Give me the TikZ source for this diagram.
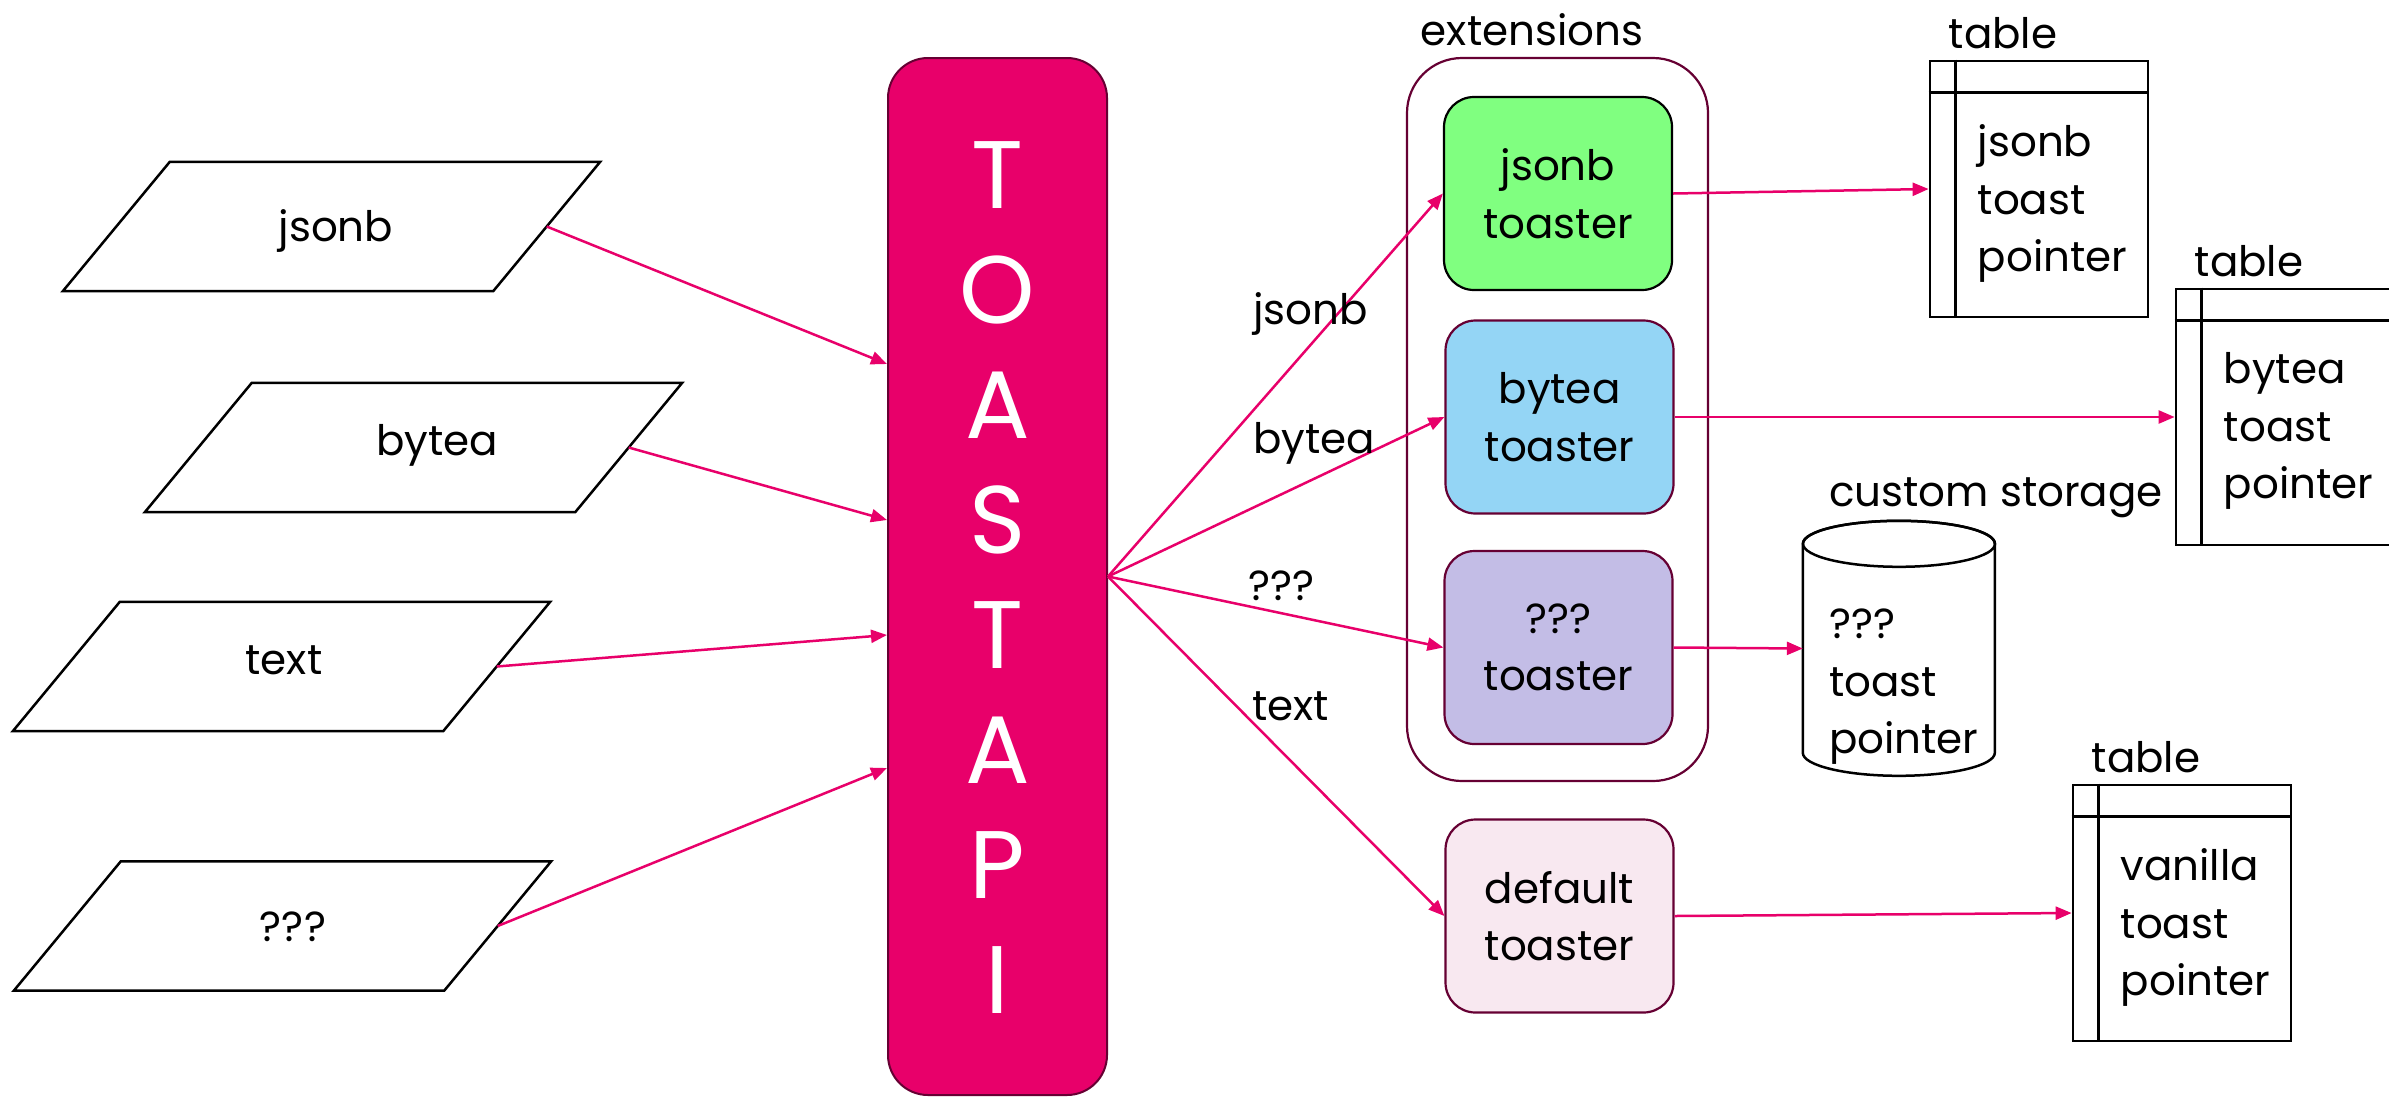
\documentclass[tikz,border=0pt]{standalone}
\usepackage{fontspec}
\setmainfont{Poppins}
\usetikzlibrary{arrows.meta,calc}
\definecolor{apipink}{HTML}{E8006A}
\definecolor{maroon}{HTML}{660033}
\definecolor{jsonbgreen}{HTML}{80FF80}
\definecolor{byteablue}{HTML}{94D5F5}
\definecolor{unkpurple}{HTML}{C3BDE6}
\definecolor{defaultpink}{HTML}{F8E8F0}

% slanted input box: #1 name, #2 centre x, #3 centre y
\newcommand\slantbox[3]{%
  \node[rectangle, minimum width=430pt, minimum height=129pt] (#1) at (#2,#3) {};
  \draw[typeline] ($(#1.north west)+(53.5,0)$) -- ($(#1.north east)+(53.5,0)$)
    -- ($(#1.south east)+(-53.5,0)$) -- ($(#1.south west)+(-53.5,0)$) -- cycle;
  \coordinate (#1-out) at (#1.east);
}

\begin{document}
\begin{tikzpicture}[x=1pt,y=-1pt,
  every node/.style={font=\fontsize{42}{57.5}\selectfont, inner sep=0pt},
  typeline/.style={draw=black, line width=2.5pt, line join=miter},
  txt/.style={anchor=base, text=black},
  apibox/.style={rectangle, rounded corners=40pt, fill=apipink, draw=maroon,
    line width=2pt, minimum width=219pt, minimum height=1037pt},
  apiletter/.style={anchor=base, text=white, font=\fontsize{96}{110}\selectfont},
  extbox/.style={rectangle, rounded corners=55pt, draw=maroon, line width=2.2pt,
    minimum width=301pt, minimum height=723pt},
  toaster/.style={rectangle, rounded corners=30pt, draw=maroon, line width=2.2pt,
    minimum width=228pt, minimum height=193pt, align=center},
  tablebox/.style={rectangle, draw=black, line width=2.8pt, fill=white,
    minimum width=218pt, minimum height=256pt},
  tableline/.style={draw=black, line width=2.8pt},
  tablename/.style={anchor=base west},
  tabletext/.style={anchor=north west, align=left},
  flow/.style={draw=apipink, line width=2.5pt, -{Triangle[length=16pt,width=13pt]}},
  edgelabel/.style={anchor=base west}
]
\useasboundingbox (0,0) rectangle (2389,1096);
\fill[white] (0,0) rectangle (2389,1096);

% ---- input data types ----
\slantbox{pj}{331.5}{226.5}
\node[txt] (pj-t) at (336,241) {jsonb};
\slantbox{pb}{413.5}{447.5}
\node[txt] (pb-t) at (437,455) {bytea};
\slantbox{pt}{281.5}{666.5}
\node[txt] (pt-t) at (284,674) {text};
\slantbox{pu}{282.5}{926}
\node[txt] (pu-t) at (293,941) {???};

% ---- toast API ----
\node[apibox] (api) at (997.5,576.5) {};
\foreach \l [count=\i from 0] in {T,O,A,S,T,A,P,I}
  \node[apiletter] (api-\i) at ({997.5},{208+115.1*\i}) {\l};

\coordinate (apiInJ) at ($(api.north west)+(0,307)$);
\coordinate (apiInB) at ($(api.north west)+(0,463)$);
\coordinate (apiInT) at ($(api.north west)+(0,578)$);
\coordinate (apiInU) at ($(api.north west)+(0,711)$);

\draw[flow] (pj-out) -- (apiInJ);
\draw[flow] (pb-out) -- (apiInB);
\draw[flow] (pt-out) -- (apiInT);
\draw[flow] (pu-out) -- (apiInU);

% ---- extensions ----
\node[extbox] (ext) at (1557.5,419.5) {};
\node[txt] (ext-t) at (1532,45) {extensions};

\node[toaster, fill=jsonbgreen, draw=black] (tj) at (1558,193.5) {jsonb\\toaster};
\node[toaster, fill=byteablue] (tb) at (1559.5,417) {bytea\\toaster};
\node[toaster, fill=unkpurple] (tu) at (1558.5,647.5) {???\\toaster};
\node[toaster, fill=defaultpink] (td) at (1559.5,916) {default\\toaster};

\draw[flow] (api.east) -- (tj.west);
\draw[flow] (api.east) -- (tb.west);
\draw[flow] (api.east) -- (tu.west);
\draw[flow] (api.east) -- (td.west);

\node[edgelabel] (l-j) at (1253,324) {jsonb};
\node[edgelabel] (l-b) at (1253,453) {bytea};
\node[edgelabel] (l-u) at (1248,600) {???};
\node[edgelabel] (l-t) at (1252,720) {text};

% ---- storage targets ----
\node[tablebox] (tbl1) at (2039,189) {};
\node[tablebox, minimum width=240pt] (tbl2) at (2296,417) {};
\node[tablebox] (tbl3) at (2182,913) {};

\foreach \t/\body in {tbl1/{jsonb\\toast\\pointer}, tbl2/{bytea\\toast\\pointer}, tbl3/{vanilla\\toast\\pointer}} {
  \draw[tableline] ([yshift=-33pt]\t.north west) -- ([yshift=-33pt]\t.north east);
  \draw[tableline] ([xshift=27pt]\t.north west) -- ([xshift=27pt]\t.south west);
  \node[tablename] (\t-name) at ([xshift=20pt,yshift=11pt]\t.north west) {table};
  \node[tabletext] (\t-text) at ([xshift=49pt,yshift=-65pt]\t.north west) {\body};
}

% cylinder for custom storage
\node[rectangle, minimum width=192pt, minimum height=255pt] (cyl) at (1899,648.5) {};
\filldraw[fill=white, draw=black, line width=2.5pt]
  (cyl.north west) ++(0,23) -- ++(0,209)
  arc[start angle=180, end angle=0, x radius=96, y radius=23]
  -- ++(0,-209)
  arc[start angle=0, end angle=-180, x radius=96, y radius=23];
\draw[black, line width=2.5pt] ($(cyl.north)+(0,23)$) ellipse[x radius=96, y radius=23];
\node[txt] (cyl-name) at (1996,506) {custom storage};
\node[tabletext] (cyl-text) at ([xshift=26pt,yshift=-88pt]cyl.north west) {???\\toast\\pointer};

\draw[flow] (tj.east) -- (tbl1.west);
\draw[flow] (tb.east) -- (tbl2.west);
\draw[flow] (tu.east) -- (cyl.west);
\draw[flow] (td.east) -- (tbl3.west);
\end{tikzpicture}
\end{document}
